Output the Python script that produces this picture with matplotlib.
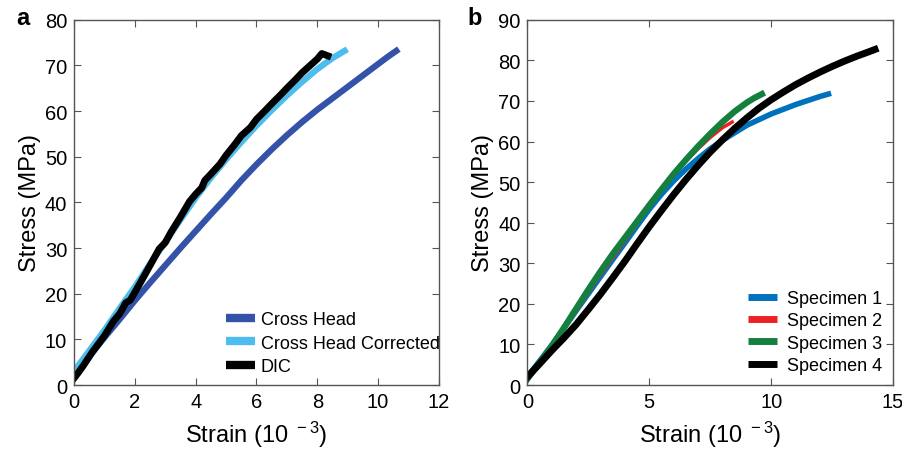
import numpy as np
import matplotlib.pyplot as plt

plt.rcParams['font.family'] = ['Liberation Sans', 'DejaVu Sans']
plt.rcParams['mathtext.default'] = 'regular'

# panel a: stress-strain by measurement method
ch_strain = [0.0, 0.5, 1.0, 1.5, 2.0, 2.5, 3.0, 3.5, 4.0, 4.5, 5.0, 5.5, 6.0, 6.5, 7.0,
             7.5, 8.0, 8.5, 9.0, 9.5, 10.0, 10.3, 10.6]
ch_stress = [2.0, 6.3, 10.4, 14.4, 18.5, 22.4, 26.2, 30.0, 33.7, 37.4, 41.0, 44.8, 48.3,
             51.6, 54.7, 57.6, 60.3, 62.8, 65.3, 67.8, 70.3, 71.8, 73.2]

chc_strain = [0.0, 0.5, 1.0, 1.5, 2.0, 2.5, 3.0, 3.5, 4.0, 4.5, 5.0, 5.5, 6.0, 6.5, 7.0,
              7.5, 8.0, 8.5, 8.9]
chc_stress = [3.0, 7.5, 12.0, 16.8, 21.5, 26.5, 31.3, 36.2, 41.0, 45.4, 49.4, 53.2, 56.8,
              60.2, 63.4, 66.4, 69.2, 71.6, 73.2]

dic_strain = [0.0, 0.15, 0.3, 0.6, 1.0, 1.3, 1.5, 1.7, 1.85, 2.0, 2.3, 2.5, 2.8, 3.0, 3.2,
              3.5, 3.8, 4.0, 4.2, 4.3, 4.5, 4.8, 5.0, 5.3, 5.5, 5.8, 6.0, 6.3, 6.5, 6.8,
              7.0, 7.3, 7.5, 7.8, 8.0, 8.15, 8.35]
dic_stress = [1.5, 2.8, 4.2, 7.2, 10.8, 14.0, 15.6, 18.0, 18.6, 20.3, 23.8, 26.2, 29.8,
              31.2, 33.6, 36.8, 40.2, 41.8, 43.2, 44.8, 46.2, 48.4, 50.3, 52.8, 54.6, 56.4,
              58.2, 60.2, 61.6, 63.6, 65.0, 67.0, 68.4, 70.2, 71.4, 72.6, 72.1]

# panel b: stress-strain of four specimens
s1_strain = [0.0, 0.5, 1.0, 1.5, 2.0, 2.5, 3.0, 3.5, 4.0, 4.5, 5.0, 5.5, 6.0, 6.5, 7.0,
             7.5, 8.0, 9.0, 10.0, 11.0, 12.0, 12.35]
s1_stress = [2.0, 5.9, 9.8, 14.0, 18.3, 22.5, 26.7, 30.9, 35.0, 39.2, 43.3, 47.0, 50.3,
             53.2, 55.8, 58.2, 60.3, 64.0, 66.8, 69.1, 71.1, 71.7]

s2_strain = [0.0, 0.5, 1.0, 1.5, 2.0, 2.5, 3.0, 3.5, 4.0, 4.5, 5.0, 5.5, 6.0, 6.5, 7.0,
             7.5, 8.0, 8.4]
s2_stress = [1.0, 5.3, 9.5, 13.9, 18.3, 22.8, 27.2, 31.4, 35.6, 39.8, 43.9, 47.9, 51.7,
             55.1, 58.2, 61.0, 63.4, 64.8]

s3_strain = [0.0, 0.5, 1.0, 1.5, 2.0, 2.5, 3.0, 3.5, 4.0, 4.5, 5.0, 5.5, 6.0, 6.5, 7.0,
             7.5, 8.0, 8.5, 9.0, 9.3, 9.62]
s3_stress = [1.5, 5.5, 9.6, 14.1, 18.8, 23.5, 28.0, 32.3, 36.3, 40.3, 44.3, 48.2, 52.0,
             55.5, 58.8, 61.9, 64.8, 67.4, 69.6, 70.7, 71.7]

s4_strain = [0.0, 0.5, 1.0, 1.5, 2.0, 2.5, 3.0, 3.5, 4.0, 4.5, 5.0, 5.5, 6.0, 6.5, 7.0,
             7.5, 8.0, 8.5, 9.0, 9.5, 10.0, 10.5, 11.0, 11.5, 12.0, 12.5, 13.0, 13.5,
             14.0, 14.26]
s4_stress = [2.0, 5.2, 8.5, 11.6, 14.9, 18.6, 22.4, 26.4, 30.5, 34.8, 39.0, 43.0, 46.9,
             50.6, 54.1, 57.4, 60.4, 63.2, 65.8, 68.2, 70.3, 72.2, 74.0, 75.6, 77.1,
             78.5, 79.8, 81.0, 82.1, 82.7]

frame_col = '#555555'


def style_axes(ax):
    for sp in ax.spines.values():
        sp.set_color(frame_col)
        sp.set_linewidth(1.0)
    ax.tick_params(direction='in', top=True, right=True, length=5,
                   color=frame_col, labelsize=14.5, pad=5)


fig = plt.figure(figsize=(9.03, 4.52), dpi=100)
ax1 = fig.add_axes([0.082, 0.146, 0.404, 0.808])
ax2 = fig.add_axes([0.584, 0.146, 0.405, 0.808])

# panel a
ax1.plot(ch_strain, ch_stress, color='#3452A8', lw=4.5, label='Cross Head')
ax1.plot(chc_strain, chc_stress, color='#4CBDEC', lw=4.5, label='Cross Head Corrected')
ax1.plot(dic_strain, dic_stress, color='black', lw=5, label='DIC')
ax1.set_xlim(0, 12)
ax1.set_ylim(0, 80)
ax1.set_xticks(range(0, 13, 2))
ax1.set_yticks(range(0, 81, 10))
ax1.set_xlabel('Strain (10$^{\\ -3}$)', fontsize=17, labelpad=6)
ax1.set_ylabel('Stress (MPa)', fontsize=17, labelpad=3)
style_axes(ax1)
leg1 = ax1.legend(loc='lower right', frameon=False, fontsize=13, handlelength=1.65,
                  handletextpad=0.3, labelspacing=0.35, borderaxespad=0.15,
                  bbox_to_anchor=(1.03, 0.0))
for h in leg1.get_lines():
    h.set_linewidth(6)
    h.set_solid_capstyle('butt')
fig.text(0.018, 0.945, 'a', fontsize=17, fontweight='bold')

# panel b
ax2.plot(s1_strain, s1_stress, color='#0072BD', lw=4, label='Specimen 1')
ax2.plot(s2_strain, s2_stress, color='#ED2024', lw=2.5, label='Specimen 2')
ax2.plot(s3_strain, s3_stress, color='#15803E', lw=4.5, label='Specimen 3')
ax2.plot(s4_strain, s4_stress, color='black', lw=5, label='Specimen 4')
ax2.set_xlim(0, 15)
ax2.set_ylim(0, 90)
ax2.set_xticks([0, 5, 10, 15])
ax2.set_yticks(range(0, 91, 10))
ax2.set_xlabel('Strain (10$^{\\ -3}$)', fontsize=17, labelpad=6)
ax2.set_ylabel('Stress (MPa)', fontsize=17, labelpad=3)
style_axes(ax2)
leg2 = ax2.legend(loc='lower right', frameon=False, fontsize=13, handlelength=1.6,
                  handletextpad=0.55, labelspacing=0.3, borderaxespad=0.2)
for h in leg2.get_lines():
    h.set_linewidth(5)
    h.set_solid_capstyle('butt')
fig.text(0.518, 0.945, 'b', fontsize=17, fontweight='bold')

fig.savefig('out.png', dpi=100)
